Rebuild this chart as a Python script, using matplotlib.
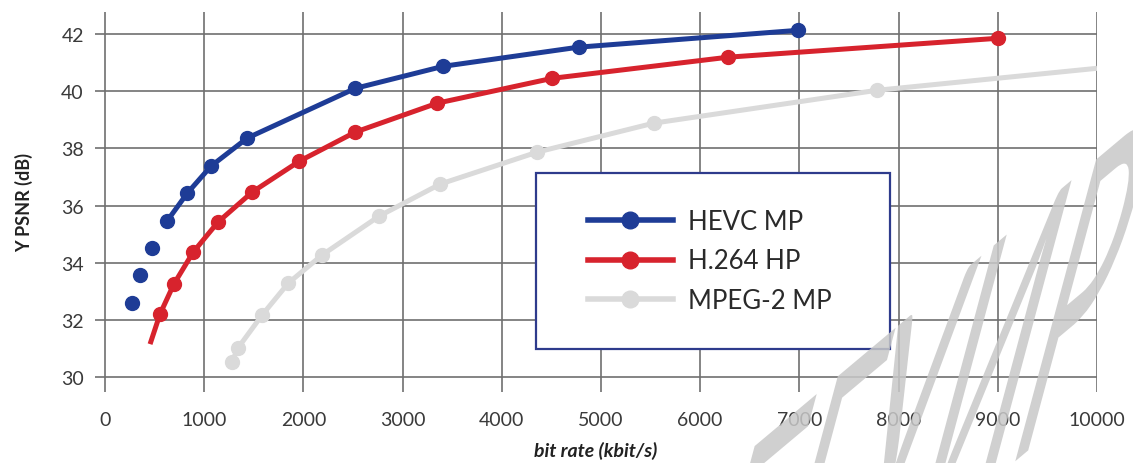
import matplotlib
matplotlib.use("Agg")
import matplotlib.pyplot as plt
from matplotlib.lines import Line2D
from matplotlib.patches import Rectangle, PathPatch
from matplotlib.textpath import TextPath
from matplotlib.font_manager import FontProperties
from matplotlib.transforms import Affine2D, IdentityTransform

# values
hevc_rate = [270, 355, 475, 625, 830, 1070, 1435, 2525, 3410, 4775, 6990]
hevc_psnr = [32.6, 33.57, 34.5, 35.45, 36.43, 37.38, 38.36, 40.1, 40.87, 41.54, 42.13]

h264_rate = [455, 555, 695, 890, 1140, 1485, 1960, 2525, 3350, 4510, 6285, 9000]
h264_psnr = [31.15, 32.2, 33.25, 34.37, 35.42, 36.47, 37.55, 38.57, 39.58, 40.45, 41.19, 41.85]

mpeg2_rate = [1280, 1340, 1585, 1850, 2190, 2765, 3380, 4360, 5530, 7780, 10000]
mpeg2_psnr = [30.52, 31.01, 32.17, 33.29, 34.27, 35.63, 36.75, 37.87, 38.88, 40.03, 40.8]

x_ticks = list(range(0, 10001, 1000))
y_ticks = [30, 32, 34, 36, 38, 40, 42]
labels = ["HEVC MP", "H.264 HP", "MPEG-2 MP"]
watermark = "БГУИР"

BLUE = "#1e3c96"
RED = "#d7232d"
GREY = "#dadada"
TXT = "#3a3a3a"

plt.rcParams["font.family"] = ["Lato", "DejaVu Sans"]

W, H = 1133, 464
fig = plt.figure(figsize=(W / 100, H / 100), dpi=100)
fig.patch.set_facecolor("white")
ax = fig.add_axes([95 / W, (H - 393) / H, 1002 / W, 380 / H])

ax.set_xlim(-100, 10000)
ax.set_ylim(29.475, 42.77)
for s in ax.spines.values():
    s.set_visible(False)
ax.set_xticks(x_ticks)
ax.set_yticks(y_ticks)
ax.tick_params(length=0, labelsize=14, labelcolor=TXT)
ax.tick_params(axis="x", pad=14)
ax.tick_params(axis="y", pad=8)
ax.grid(True, color="#707070", linewidth=1.2, zorder=0)
ax.set_axisbelow(True)

lw = 3.6
ms = 10
# HEVC: the three lowest points are shown as dots only
ax.plot(hevc_rate[3:], hevc_psnr[3:], color=BLUE, lw=lw, zorder=3, solid_capstyle="butt")
ax.plot(hevc_rate, hevc_psnr, "o", color=BLUE, ms=ms, zorder=3)
ax.plot(h264_rate, h264_psnr, color=RED, lw=lw, zorder=3, solid_capstyle="butt")
ax.plot(h264_rate[1:], h264_psnr[1:], "o", color=RED, ms=ms, zorder=3)
ax.plot(mpeg2_rate, mpeg2_psnr, color=GREY, lw=lw, zorder=2, solid_capstyle="butt")
ax.plot(mpeg2_rate[:-1], mpeg2_psnr[:-1], "o", color=GREY, ms=ms, zorder=2)

ax.set_xlabel("bit rate (kbit/s)", fontsize=14, fontweight="bold", fontstyle="italic",
              color="#222222", labelpad=9)
ax.set_ylabel("Y PSNR (dB)", fontsize=13, fontweight="bold", color="#222222", labelpad=20)

# legend box
box = Rectangle((536 / W, (H - 350) / H), 354 / W, 176 / H, transform=fig.transFigure,
                facecolor="white", edgecolor="#2e3b8c", linewidth=1.6, zorder=4)
ax.add_patch(box)
handles = [Line2D([], [], color=c, lw=4, marker="o", ms=12) for c in (BLUE, RED, GREY)]
leg = ax.legend(handles, labels, loc="center left", bbox_to_anchor=(588 / W, (H - 262) / H),
                bbox_transform=fig.transFigure, frameon=False, fontsize=18.5, borderpad=0,
                borderaxespad=0, handlelength=3.3, handletextpad=0.6, labelspacing=0.55,
                numpoints=1)
leg.set_zorder(5)
for t in leg.get_texts():
    t.set_color("#2a2a2a")

# watermark
tp = TextPath((0, 0), watermark, size=250, prop=FontProperties(family="Lato", weight="normal"))
p = Affine2D().scale(0.7, 1).skew_deg(55, 0).rotate_deg(40).transform_path(tp)
ext = p.get_extents()
p = Affine2D().translate(1145 - ext.x1, 334 - ext.y1).transform_path(p)
fig.patches.append(PathPatch(p, transform=IdentityTransform(), facecolor="#c8c8c8",
                             edgecolor="none", alpha=0.85, zorder=10))

fig.savefig("out.png", dpi=100)
